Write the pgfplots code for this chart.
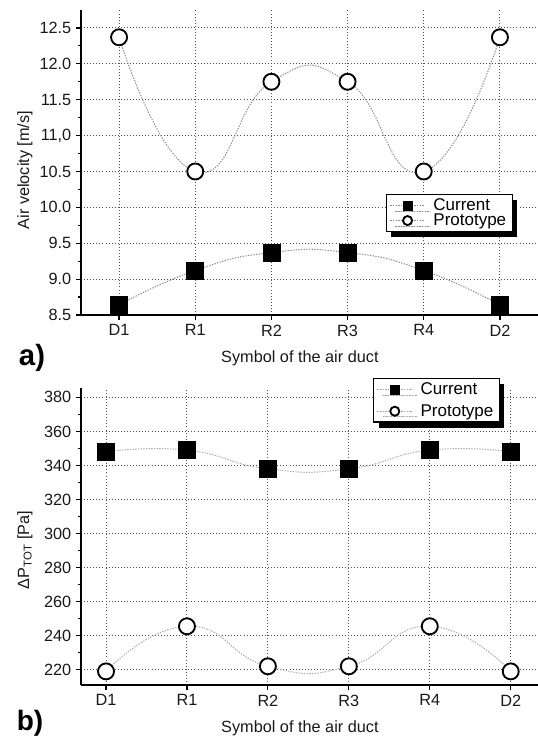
\documentclass[border=0pt]{standalone}
\usepackage{pgfplots}
\pgfplotsset{compat=1.18}
\usepackage{fontspec}
\setmainfont{Liberation Sans}
\usetikzlibrary{shadows}
\definecolor{gridc}{HTML}{505050}
\definecolor{linetop}{HTML}{8A8A8A}
\definecolor{linebot}{HTML}{A8A8A8}
\pgfplotsset{
  myax/.style={
    scale only axis,
    enlargelimits=false,
    axis x line*=bottom, axis y line*=left,
    axis line style={line width=1pt, black},
    tick align=outside,
    major tick length=3.75pt, minor tick length=2.25pt,
    every tick/.style={line width=0.9pt, black},
    xtick={0,...,5},
    xticklabels={D1,R1,R2,R3,R4,D2},
    minor y tick num=1,
    grid=major,
    major grid style={gridc, line width=0.7pt, dash pattern=on 0.7pt off 1.6pt},
    tick label style={font=\fontsize{12.2}{14}\selectfont, black!90},
    label style={font=\fontsize{12.2}{14}\selectfont, black!90},
    /pgf/number format/assume math mode=true,
    legend style={draw=black, line width=0.9pt, fill=white,
      drop shadow={shadow xshift=3.8pt, shadow yshift=-4.2pt, fill=black, opacity=1},
      font=\fontsize{12.75}{13}\selectfont, inner xsep=2.5pt, inner ysep=1pt,
      cells={anchor=west},
      /tikz/every odd column/.append style={column sep=4pt}},
    legend image code/.code={\draw[mark repeat=2,mark phase=2,##1, mark size=3.4pt] plot coordinates {(0pt,0pt)(13pt,0pt)(26pt,0pt)};},
  },
  curS/.style={line width=0.75pt, dash pattern=on 1pt off 1pt, smooth, tension=0.9,
    mark=square*, mark size=6.4pt, mark options={solid, fill=black, draw=black, line width=0.5pt}},
  proS/.style={line width=0.75pt, dash pattern=on 1pt off 1pt, smooth, tension=0.9,
    mark=*, mark size=6pt, mark options={solid, fill=white, draw=black, line width=1.4pt}},
}
\begin{document}
\begin{tikzpicture}
\path[use as bounding box] (0pt,0pt) rectangle (403.5pt,-555pt);
% ---------- a) ----------
\begin{axis}[myax,
  at={(60.75pt,-236.25pt)}, anchor=south west,
  width=342.75pt, height=228.75pt,
  xmin=-0.5, xmax=5.5, ymin=8.5, ymax=12.75,
  ytick={8.5,9,9.5,10,10.5,11,11.5,12,12.5},
  yticklabels={8.5,9.0,9.5,10.0,10.5,{11,0},11.5,12.0,12.5},
  xlabel={Symbol of the air duct},
  ylabel={Air velocity [m/s]},
  xlabel style={at={(axis description cs:0.479,-0.141)}, anchor=center},
  ylabel style={at={(axis description cs:-0.1225,0.475)}, anchor=center},
  legend style={at={(axis description cs:0.667,0.397)}, anchor=north west, row sep=-3pt},
]
\addplot[linetop, curS] coordinates {(0,8.64)(1,9.12)(2,9.37)(3,9.37)(4,9.12)(5,8.64)};
\addlegendentry{Current}
\addplot[linetop, proS] coordinates {(0,12.37)(1,10.5)(2,11.75)(3,11.75)(4,10.5)(5,12.37)};
\addlegendentry{Prototype}
\end{axis}
% ---------- b) ----------
\begin{axis}[myax,
  at={(60.75pt,-513.75pt)}, anchor=south west,
  width=342.75pt, height=222.75pt,
  xmin=-0.309, xmax=5.337, ymin=211, ymax=385.5,
  ytick={220,240,...,380},
  xlabel={Symbol of the air duct},
  ylabel={ΔP\textsubscript{TOT} [Pa]},
  xlabel style={at={(axis description cs:0.479,-0.1448)}, anchor=center},
  ylabel style={at={(axis description cs:-0.1225,0.455)}, anchor=center},
  legend style={at={(axis description cs:0.639,1.034)}, anchor=north west, row sep=2pt},
]
\addplot[linebot, curS] coordinates {(0,348)(1,349)(2,338)(3,338)(4,349)(5,348)};
\addlegendentry{Current}
\addplot[linebot, proS] coordinates {(0,219)(1,245.5)(2,222)(3,222)(4,245.5)(5,219)};
\addlegendentry{Prototype}
\end{axis}
\node[font=\fontsize{22}{22}\selectfont\bfseries, anchor=base] at (24pt,-274pt) {a)};
\node[font=\fontsize{21}{21}\selectfont\bfseries, anchor=base] at (22.5pt,-548pt) {b)};
\end{tikzpicture}
\end{document}
